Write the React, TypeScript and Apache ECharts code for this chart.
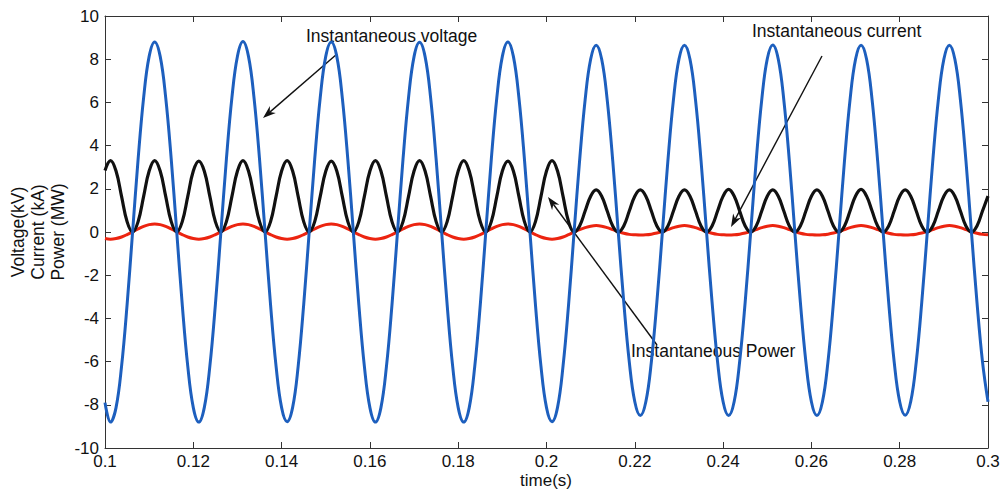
import React, { useEffect, useRef } from "react";
import * as echarts from "echarts";

// Sampling grid of the recorded waveforms: one sample every 1.25 ms from t = 0.1 s
const T_START = 0.1;
const T_STEP = 0.00125;

// Instantaneous voltage (kV)
const voltage = [
  -7.9,
  -8.8, -8.13, -6.22, -3.37, 0.0, 3.37, 6.22, 8.13, 8.8, 8.13, 6.22, 3.37, 0.0, -3.37, -6.22, -8.13,
  -8.8, -8.12, -6.21, -3.36, 0.0, 3.38, 6.23, 8.14, 8.82, 8.13, 6.22, 3.37, 0.0, -3.37, -6.22, -8.13,
  -8.78, -8.12, -6.22, -3.37, 0.0, 3.37, 6.22, 8.13, 8.8, 8.13, 6.21, 3.36, 0.0, -3.37, -6.22, -8.13,
  -8.8, -8.13, -6.22, -3.37, 0.0, 3.37, 6.22, 8.12, 8.78, 8.12, 6.22, 3.37, 0.0, -3.37, -6.22, -8.13,
  -8.8, -8.13, -6.22, -3.37, 0.0, 3.37, 6.22, 8.13, 8.8, 8.13, 6.22, 3.37, 0.0, -3.37, -6.22, -8.13,
  -8.78, -8.12, -6.2, -3.36, 0.0, 3.31, 6.12, 8.0, 8.65, 8.0, 6.12, 3.31, 0.0, -3.25, -6.01, -7.86,
  -8.5, -7.86, -6.01, -3.25, 0.0, 3.31, 6.12, 8.0, 8.65, 8.0, 6.12, 3.31, 0.0, -3.25, -6.01, -7.86,
  -8.5, -7.86, -6.0, -3.25, 0.0, 3.31, 6.12, 8.01, 8.66, 8.0, 6.12, 3.31, 0.0, -3.25, -6.01, -7.86,
  -8.5, -7.86, -6.01, -3.25, 0.0, 3.31, 6.12, 8.0, 8.65, 8.0, 6.12, 3.31, 0.0, -3.25, -6.01, -7.86,
  -8.48, -7.85, -6.01, -3.25, 0.0, 3.31, 6.12, 8.0, 8.65, 8.0, 6.12, 3.31, 0.0, -3.25, -6.0, -7.86,
];

// Instantaneous power (MW)
const power = [
  2.85,
  3.3, 2.82, 1.65, 0.48, 0.0, 0.48, 1.65, 2.82, 3.3, 2.82, 1.65, 0.48, 0.0, 0.48, 1.65, 2.82,
  3.28, 2.81, 1.65, 0.48, 0.0, 0.48, 1.65, 2.82, 3.3, 2.82, 1.65, 0.48, 0.0, 0.48, 1.65, 2.82,
  3.3, 2.82, 1.65, 0.48, 0.0, 0.48, 1.65, 2.81, 3.28, 2.82, 1.65, 0.48, 0.0, 0.48, 1.65, 2.82,
  3.3, 2.82, 1.65, 0.48, 0.0, 0.48, 1.65, 2.82, 3.3, 2.82, 1.65, 0.48, 0.0, 0.48, 1.65, 2.82,
  3.3, 2.82, 1.65, 0.48, 0.0, 0.48, 1.65, 2.82, 3.28, 2.82, 1.65, 0.48, 0.0, 0.48, 1.65, 2.82,
  3.3, 2.82, 1.65, 0.48, 0.0, 0.28, 0.97, 1.66, 1.95, 1.66, 0.97, 0.28, 0.0, 0.28, 0.97, 1.66,
  1.95, 1.66, 0.97, 0.28, 0.0, 0.28, 0.97, 1.66, 1.95, 1.66, 0.97, 0.28, 0.0, 0.28, 0.97, 1.66,
  1.97, 1.67, 0.97, 0.28, 0.0, 0.28, 0.97, 1.66, 1.95, 1.66, 0.97, 0.28, 0.0, 0.28, 0.97, 1.66,
  1.95, 1.66, 0.97, 0.28, 0.0, 0.28, 0.97, 1.67, 1.97, 1.66, 0.97, 0.28, 0.0, 0.28, 0.97, 1.66,
  1.95, 1.66, 0.97, 0.28, 0.0, 0.28, 0.97, 1.66, 1.95, 1.66, 0.97, 0.28, 0.0, 0.28, 0.97, 1.66,
];

// Instantaneous current (kA)
const current = [
  -0.3,
  -0.33, -0.3, -0.23, -0.12, 0.01, 0.14, 0.26, 0.34, 0.37, 0.34, 0.26, 0.14, 0.01, -0.12, -0.23, -0.3,
  -0.33, -0.3, -0.23, -0.12, 0.01, 0.14, 0.26, 0.34, 0.37, 0.34, 0.26, 0.14, 0.01, -0.12, -0.23, -0.3,
  -0.33, -0.3, -0.23, -0.12, 0.01, 0.14, 0.26, 0.34, 0.37, 0.34, 0.26, 0.14, 0.01, -0.12, -0.23, -0.3,
  -0.33, -0.3, -0.23, -0.12, 0.01, 0.14, 0.26, 0.34, 0.37, 0.34, 0.26, 0.14, 0.01, -0.12, -0.23, -0.3,
  -0.33, -0.3, -0.23, -0.12, 0.01, 0.14, 0.26, 0.34, 0.37, 0.34, 0.26, 0.14, 0.01, -0.12, -0.23, -0.3,
  -0.33, -0.3, -0.23, -0.12, 0.0, 0.11, 0.2, 0.27, 0.3, 0.27, 0.2, 0.11, 0.02, -0.06, -0.11, -0.13,
  -0.14, -0.13, -0.1, -0.05, 0.02, 0.11, 0.2, 0.27, 0.3, 0.27, 0.2, 0.11, 0.02, -0.06, -0.11, -0.13,
  -0.14, -0.13, -0.1, -0.05, 0.02, 0.11, 0.2, 0.27, 0.3, 0.27, 0.2, 0.11, 0.02, -0.06, -0.11, -0.13,
  -0.14, -0.13, -0.1, -0.05, 0.02, 0.11, 0.2, 0.27, 0.3, 0.27, 0.2, 0.11, 0.02, -0.06, -0.11, -0.13,
  -0.14, -0.13, -0.1, -0.05, 0.02, 0.11, 0.2, 0.27, 0.3, 0.27, 0.2, 0.11, 0.02, -0.06, -0.11, -0.13,
];

const Y_AXIS_TITLE = ["Voltage(kV)", "Current (kA)", "Power (MW)"];
const X_AXIS_TITLE = "time(s)";

const FONT = "'Liberation Sans', Arial, sans-serif";
const AXIS_COLOR = "#333";

const toPairs = (values: number[]) =>
  values.map((v, i) => [T_START + i * T_STEP, v]);

// Annotation arrow: a thin shaft with a notched filled head at (x2, y2)
function arrow(x1: number, y1: number, x2: number, y2: number) {
  const ang = Math.atan2(y2 - y1, x2 - x1);
  const len = 13;
  const half = 4.5;
  const notch = 9;
  const ux = Math.cos(ang);
  const uy = Math.sin(ang);
  const bx = x2 - ux * len;
  const by = y2 - uy * len;
  const nx = x2 - ux * notch;
  const ny = y2 - uy * notch;
  return {
    type: "group",
    silent: true,
    children: [
      {
        type: "line",
        shape: { x1, y1, x2: nx, y2: ny },
        style: { stroke: "#111", lineWidth: 1.4 },
      },
      {
        type: "polygon",
        shape: {
          points: [
            [x2, y2],
            [bx - uy * half, by + ux * half],
            [nx, ny],
            [bx + uy * half, by - ux * half],
          ],
        },
        style: { fill: "#111" },
      },
    ],
  };
}

function annotation(text: string, x: number, y: number) {
  return {
    type: "text",
    silent: true,
    x,
    y,
    style: {
      text,
      fill: "#111",
      font: `17.5px ${FONT}`,
      textAlign: "left",
      textVerticalAlign: "middle",
    },
  };
}

export default function App() {
  const ref = useRef<HTMLDivElement>(null);

  useEffect(() => {
    document.body.style.margin = "0";
    if (!ref.current) return;
    const chart = echarts.init(ref.current, undefined, { renderer: "svg" });

    const tickLabel = (v: number) => String(Number(v.toFixed(2)));

    const xCommon = {
      type: "value",
      min: 0.1,
      max: 0.3,
      interval: 0.02,
      axisLine: { show: true, onZero: false, lineStyle: { color: AXIS_COLOR, width: 1 } },
      axisTick: { show: true, inside: true, length: 6, lineStyle: { color: AXIS_COLOR } },
      splitLine: { show: false },
    };
    const yCommon = {
      type: "value",
      min: -10,
      max: 10,
      interval: 2,
      axisLine: { show: true, onZero: false, lineStyle: { color: AXIS_COLOR, width: 1 } },
      axisTick: { show: true, inside: true, length: 6, lineStyle: { color: AXIS_COLOR } },
      splitLine: { show: false },
    };

    chart.setOption({
      animation: false,
      backgroundColor: "#fff",
      grid: {
        left: 105,
        right: 17,
        top: 16,
        bottom: 42,
        containLabel: false,
        outerBoundsMode: "none",
      },
      xAxis: [
        {
          ...xCommon,
          position: "bottom",
          axisLabel: {
            color: "#111",
            fontSize: 17,
            lineHeight: 17,
            fontFamily: FONT,
            margin: 5,
            showMinLabel: true,
            showMaxLabel: true,
            formatter: tickLabel,
          },
        },
        { ...xCommon, position: "top", axisLabel: { show: false } },
      ],
      yAxis: [
        {
          ...yCommon,
          position: "left",
          axisLabel: {
            color: "#111",
            fontSize: 17,
            fontFamily: FONT,
            margin: 6,
            showMinLabel: true,
            showMaxLabel: true,
          },
        },
        { ...yCommon, position: "right", axisLabel: { show: false } },
      ],
      series: [
        {
          name: "Instantaneous current",
          type: "line",
          data: toPairs(current),
          showSymbol: false,
          smooth: 0.4,
          lineStyle: { color: "#ec2410", width: 3 },
          z: 2,
        },
        {
          name: "Instantaneous power",
          type: "line",
          data: toPairs(power),
          showSymbol: false,
          smooth: 0.4,
          lineStyle: { color: "#111", width: 3.2 },
          z: 3,
        },
        {
          name: "Instantaneous voltage",
          type: "line",
          data: toPairs(voltage),
          showSymbol: false,
          smooth: 0.4,
          lineStyle: { color: "#1d5fbe", width: 3 },
          z: 4,
        },
      ],
      graphic: [
        {
          type: "text",
          silent: true,
          x: 38,
          y: 232,
          rotation: Math.PI / 2,
          style: {
            text: Y_AXIS_TITLE.join("\n"),
            fill: "#111",
            font: `17.5px ${FONT}`,
            lineHeight: 20,
            textAlign: "center",
            textVerticalAlign: "middle",
          },
        },
        {
          type: "text",
          silent: true,
          x: 546,
          y: 480.5,
          style: {
            text: X_AXIS_TITLE,
            fill: "#111",
            font: `17px ${FONT}`,
            lineHeight: 17,
            textAlign: "center",
            textVerticalAlign: "middle",
          },
        },
        annotation("Instantaneous voltage", 306, 36),
        annotation("Instantaneous current", 752, 31),
        annotation("Instantaneous Power", 631, 351),
        arrow(337, 54, 263, 118),
        arrow(822, 56, 731, 227),
        arrow(657, 345, 548, 197),
      ],
    });

    return () => chart.dispose();
  }, []);

  return <div ref={ref} style={{ width: 1005, height: 490 }} />;
}
